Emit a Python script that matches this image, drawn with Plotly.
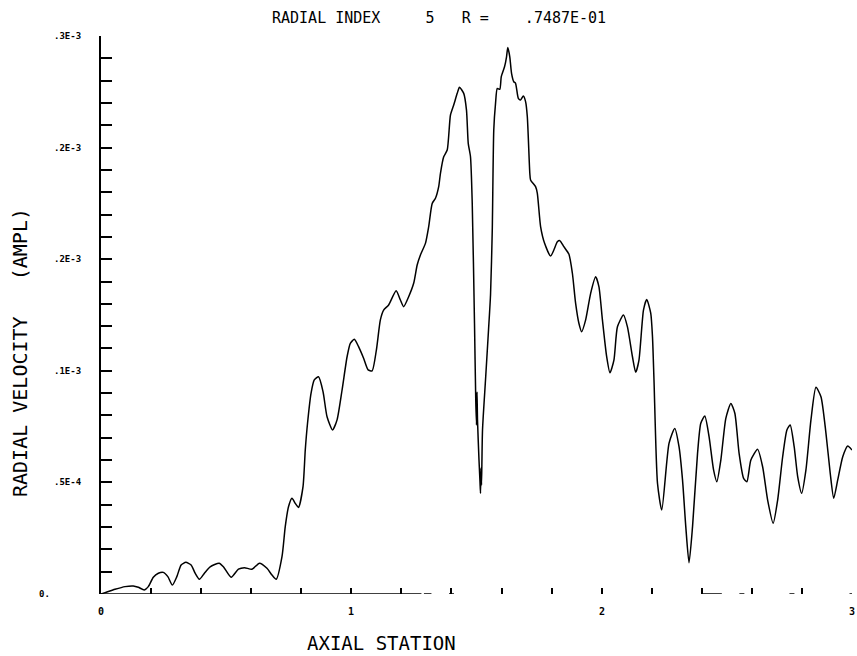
import numpy as np
import plotly.graph_objects as go

# Axial station (x) and radial velocity amplitude in units of 1E-3
axial_station = [
    0.000, 0.016, 0.056, 0.096, 0.129, 0.149, 0.173, 0.189, 0.209, 0.229,
    0.249, 0.267, 0.285, 0.303, 0.320, 0.339, 0.360, 0.376, 0.393, 0.413,
    0.436, 0.472, 0.489, 0.520, 0.549, 0.573, 0.603, 0.633, 0.663, 0.683,
    0.700, 0.723, 0.736, 0.749, 0.763, 0.776, 0.789, 0.807, 0.816, 0.825,
    0.839, 0.852, 0.869, 0.887, 0.903, 0.925, 0.943, 0.963, 0.983, 0.996,
    1.012, 1.029, 1.049, 1.067, 1.083, 1.100, 1.116, 1.129, 1.149, 1.179,
    1.196, 1.209, 1.229, 1.249, 1.263, 1.276, 1.296, 1.309, 1.323, 1.336,
    1.349, 1.356, 1.369, 1.383, 1.396, 1.409, 1.423, 1.432, 1.449, 1.460,
    1.467, 1.476, 1.483, 1.492, 1.497, 1.500, 1.502, 1.504, 1.510, 1.514,
    1.516, 1.518, 1.520, 1.524, 1.536, 1.548, 1.556, 1.563, 1.569, 1.576,
    1.583, 1.593, 1.599, 1.612, 1.620, 1.625, 1.633, 1.640, 1.649, 1.656,
    1.667, 1.676, 1.687, 1.696, 1.703, 1.713, 1.716, 1.736, 1.743, 1.756,
    1.772, 1.796, 1.809, 1.823, 1.833, 1.849, 1.869, 1.883, 1.896, 1.909,
    1.920, 1.936, 1.956, 1.976, 1.989, 2.003, 2.020, 2.033, 2.049, 2.063,
    2.087, 2.103, 2.123, 2.136, 2.149, 2.167, 2.180, 2.196, 2.203, 2.209,
    2.223, 2.240, 2.269, 2.292, 2.309, 2.323, 2.336, 2.349, 2.363, 2.383,
    2.396, 2.412, 2.429, 2.447, 2.460, 2.476, 2.496, 2.516, 2.532, 2.549,
    2.567, 2.580, 2.596, 2.623, 2.643, 2.663, 2.685, 2.703, 2.723, 2.740,
    2.753, 2.769, 2.783, 2.799, 2.816, 2.836, 2.856, 2.876, 2.896, 2.913,
    2.927, 2.943, 2.963, 2.983, 3.000,
]
velocity_e3 = [
    0.0000, 0.0006, 0.0021, 0.0033, 0.0036, 0.0030, 0.0018, 0.0033, 0.0075, 0.0093,
    0.0097, 0.0078, 0.0040, 0.0078, 0.0130, 0.0142, 0.0130, 0.0093, 0.0066, 0.0093,
    0.0122, 0.0138, 0.0122, 0.0075, 0.0111, 0.0118, 0.0111, 0.0138, 0.0115, 0.0085,
    0.0066, 0.0167, 0.0302, 0.0391, 0.0429, 0.0406, 0.0388, 0.0481, 0.0645, 0.0765,
    0.0899, 0.0959, 0.0973, 0.0906, 0.0794, 0.0735, 0.0780, 0.0914, 0.1063, 0.1123,
    0.1141, 0.1108, 0.1056, 0.1004, 0.1000, 0.1093, 0.1228, 0.1272, 0.1295, 0.1359,
    0.1317, 0.1287, 0.1332, 0.1392, 0.1474, 0.1519, 0.1571, 0.1646, 0.1750, 0.1773,
    0.1825, 0.1885, 0.1959, 0.1989, 0.2146, 0.2191, 0.2243, 0.2270, 0.2243, 0.2168,
    0.2019, 0.1959, 0.1750, 0.1213, 0.0869, 0.0757, 0.0905, 0.0780, 0.0600, 0.0502,
    0.0451, 0.0564, 0.0488, 0.0735, 0.0959, 0.1183, 0.1340, 0.1631, 0.2079, 0.2198,
    0.2265, 0.2261, 0.2318, 0.2362, 0.2407, 0.2449, 0.2407, 0.2333, 0.2295, 0.2288,
    0.2221, 0.2213, 0.2231, 0.2206, 0.2138, 0.1885, 0.1855, 0.1825, 0.1795, 0.1646,
    0.1571, 0.1514, 0.1541, 0.1578, 0.1583, 0.1556, 0.1523, 0.1437, 0.1302, 0.1213,
    0.1175, 0.1228, 0.1347, 0.1421, 0.1377, 0.1228, 0.1063, 0.0991, 0.1048, 0.1197,
    0.1250, 0.1197, 0.1063, 0.0993, 0.1048, 0.1272, 0.1320, 0.1258, 0.1153, 0.0959,
    0.0496, 0.0376, 0.0675, 0.0742, 0.0660, 0.0511, 0.0302, 0.0140, 0.0302, 0.0630,
    0.0765, 0.0797, 0.0705, 0.0556, 0.0503, 0.0600, 0.0787, 0.0854, 0.0810, 0.0630,
    0.0518, 0.0503, 0.0600, 0.0648, 0.0570, 0.0421, 0.0317, 0.0421, 0.0615, 0.0735,
    0.0757, 0.0660, 0.0526, 0.0451, 0.0556, 0.0780, 0.0926, 0.0884, 0.0720, 0.0541,
    0.0429, 0.0511, 0.0615, 0.0663, 0.0645,
]

# Axis annotation
y_label_vals = [0.0, 0.05e-3, 0.10e-3, 0.15e-3, 0.20e-3, 0.25e-3]
y_label_text = ["0.", ".5E-4", ".1E-3", ".2E-3", ".2E-3", ".3E-3"]
x_label_vals = [0, 1, 2, 3]
x_label_text = ["0", "1", "2", "3"]

NB = "\u00a0"
title_text = "RADIAL INDEX" + NB * 5 + "5" + NB * 3 + "R =" + NB * 4 + ".7487E-01"
xtitle_text = "AXIAL STATION"
ytitle_text = "RADIAL VELOCITY" + NB * 3 + "(AMPL)"

MONO = "DejaVu Sans Mono"

x = np.array(axial_station)
y = np.array(velocity_e3) * 1e-3

fig = go.Figure()
fig.add_trace(go.Scatter(
    x=x, y=y, mode="lines",
    line=dict(color="black", width=1.5, shape="spline", smoothing=0.6),
    hoverinfo="skip", showlegend=False, cliponaxis=False,
))

y_minor = np.round(np.arange(0, 0.2501e-3, 0.01e-3), 8)
x_minor = np.round(np.arange(0, 3.001, 0.2), 4)

fig.update_layout(
    width=857, height=656,
    margin=dict(l=101, r=5, t=36, b=62),
    paper_bgcolor="white", plot_bgcolor="white",
    showlegend=False,
    xaxis=dict(
        range=[0, 3], showgrid=False, zeroline=False, showline=False,
        tickmode="array", tickvals=list(x_minor), ticktext=[""] * len(x_minor),
        ticks="inside", ticklen=6, tickwidth=1.5, tickcolor="black",
    ),
    yaxis=dict(
        range=[0, 0.25e-3], showgrid=False, zeroline=False,
        showline=True, linecolor="black", linewidth=1.5,
        tickmode="array", tickvals=list(y_minor), ticktext=[""] * len(y_minor),
        ticks="inside", ticklen=11, tickwidth=1.5, tickcolor="black",
    ),
)

# x axis baseline (broken beyond the first segment)
segments = [(0.0, 1.28), (1.29, 1.32), (1.39, 1.41), (2.40, 2.48), (2.55, 2.57),
            (2.75, 2.77), (2.99, 3.0)]
for a, b in segments:
    fig.add_shape(type="line", xref="x", yref="y", x0=a, x1=b, y0=0, y1=0,
                  line=dict(color="black", width=1.5))

ann = []
for v, t in zip(y_label_vals, y_label_text):
    ann.append(dict(
        xref="paper", yref="y", x=0, y=v, text=t, showarrow=False,
        xanchor="left", yanchor="middle",
        xshift=(-64 if t == "0." else -49),
        font=dict(family=MONO, size=9, color="black", weight="bold"),
    ))
for v, t in zip(x_label_vals, x_label_text):
    ann.append(dict(
        xref="x", yref="paper", x=v, y=0, text=t, showarrow=False,
        xanchor="center", yanchor="top", yshift=-10,
        font=dict(family=MONO, size=10, color="black", weight="bold"),
    ))
ann.append(dict(
    xref="paper", yref="paper", x=(270 - 101) / 751, y=1, yshift=18,
    text=title_text, showarrow=False, xanchor="left", yanchor="middle",
    font=dict(family=MONO, size=15, color="black"),
))
ann.append(dict(
    xref="paper", yref="paper", x=(305 - 101) / 751, y=0, yshift=-49,
    text=xtitle_text, showarrow=False, xanchor="left", yanchor="middle",
    font=dict(family=MONO, size=19, color="black"),
))
ann.append(dict(
    xref="paper", yref="paper", x=0, xshift=-81, y=(594 - 353) / 558,
    text=ytitle_text, showarrow=False, xanchor="center", yanchor="middle",
    textangle=-90,
    font=dict(family=MONO, size=20, color="black"),
))
fig.update_layout(annotations=ann)

fig.write_html("out.html")
